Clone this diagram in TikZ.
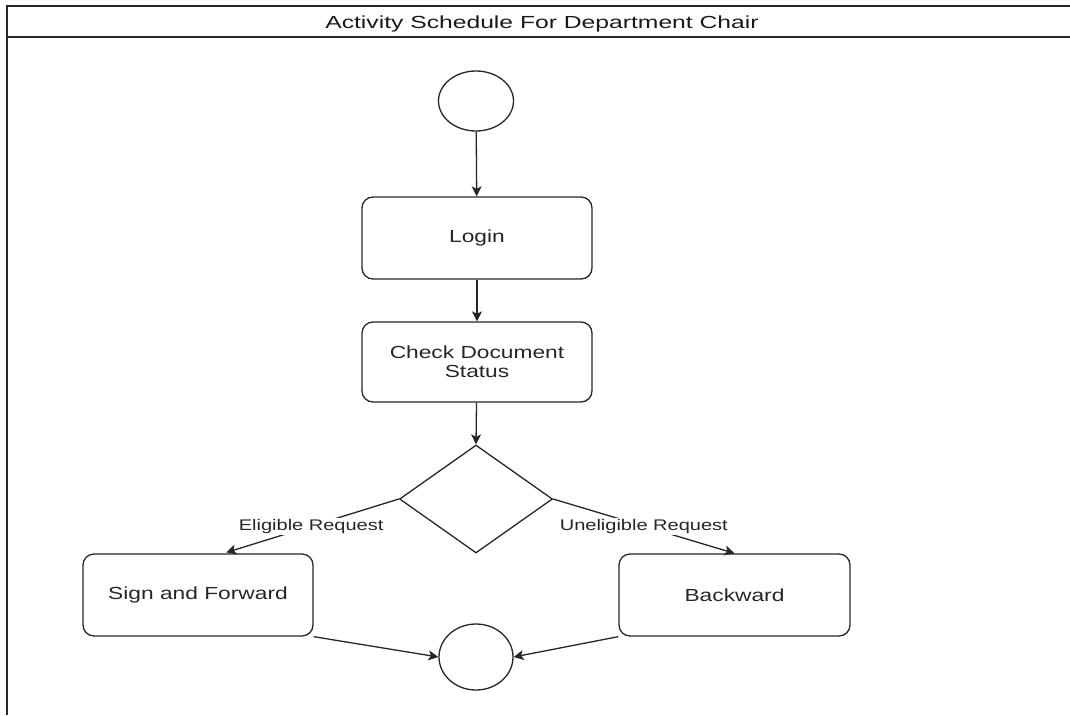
\documentclass[tikz,border=0pt]{standalone}
\usepackage{fontspec}
\setmainfont{Liberation Sans}
\newfontfamily\bodyfont[FakeStretch=1.3]{Liberation Sans}
\newfontfamily\headfont[FakeStretch=1.41]{Liberation Sans}
\usetikzlibrary{shapes.geometric,arrows.meta,calc}

\tikzset{
  frameline/.style={line width=1.4pt, draw=black!85},
  stepbox/.style={draw=black!85, line width=1.3pt, rounded corners=11pt,
    minimum width=230pt, minimum height=82pt, inner sep=0pt,
    align=center, text=black!85,
    font=\bodyfont\fontsize{17.5}{19}\selectfont},
  terminal/.style={draw=black!85, line width=1.3pt, ellipse, inner sep=0pt},
  choice/.style={draw=black!85, line width=1.3pt, diamond, inner sep=0pt,
    minimum width=153pt, minimum height=108pt},
  flow/.style={draw=black!85, line width=1.3pt,
    -{Stealth[length=10pt,width=10pt,inset=2.5pt]}},
  edgelabel/.style={fill=white, inner sep=1.5pt, text=black!85,
    font=\bodyfont\fontsize{15.4}{17}\selectfont}
}

\begin{document}
\begin{tikzpicture}[x=1pt,y=-1pt]
  \useasboundingbox (0,0) rectangle (1070,715);

  % swimlane frame with its title strip
  \draw[frameline] (1070,6) -- (7,6) -- (7,715);
  \draw[frameline] (7,37) -- (1070,37);
  \node[anchor=base, text=black!90, font=\headfont\fontsize{17.5}{19}\selectfont]
    (title) at (542,28) {Activity Schedule For Department Chair};

  % activities
  \node[terminal, minimum width=75pt, minimum height=60pt] (start) at (476,101) {};
  \node[stepbox] (login) at (477,238) {Login};
  \node[stepbox, minimum height=80pt] (check) at (477,362) {Check Document\\Status};
  \node[choice] (dec) at (476,499) {};
  \node[stepbox] (sign) at (198,595) {Sign and Forward};
  \node[stepbox, minimum width=231pt] (back) at (734.5,595) {Backward};
  \node[terminal, minimum width=74pt, minimum height=66pt] (stop) at (476,657) {};

  % control flow
  \draw[flow] (start) -- (login);
  \draw[flow] (login) -- (check);
  \draw[flow] (check) -- (dec.north);
  \draw[flow, shorten >=3pt] (dec.west) --
    node[edgelabel] (elig) {Eligible Request}
    ($(sign.north west)!0.61!(sign.north east)$);
  \draw[flow] (dec.east) --
    node[edgelabel] (inel) {Uneligible Request}
    (back.north);
  \draw[flow] (sign.south east) -- (stop.west);
  \draw[flow] (back.south west) -- (stop.east);
\end{tikzpicture}
\end{document}
